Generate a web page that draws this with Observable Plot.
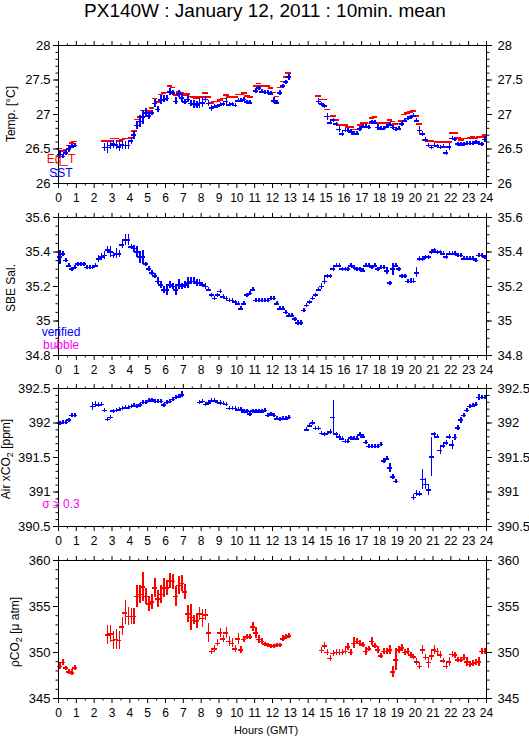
<!DOCTYPE html>
<html><head><meta charset="utf-8">
<script src="https://cdn.jsdelivr.net/npm/d3@7"></script>
<script src="https://cdn.jsdelivr.net/npm/@observablehq/plot@0.6"></script>
<style>
body{margin:0;background:#fff;}
#root{position:relative;width:529px;height:739px;overflow:hidden;font-family:"Liberation Sans",Arial,Helvetica,sans-serif;color:#000;background:#fff;}
#title{position:absolute;left:0;top:0px;width:530px;text-align:center;font-size:19px;line-height:21px;white-space:nowrap;}
#xlab{position:absolute;left:0;width:532px;top:723px;text-align:center;font-size:11px;line-height:14px;}
.panel{position:absolute;left:0;}
</style></head>
<body><div id="root"><div id="title">PX140W : January 12, 2011 : 10min. mean</div><div id="xlab">Hours (GMT)</div></div>
<script>
const _ = null;
const FONT = '"Liberation Sans", Arial, Helvetica, sans-serif';
const RED = "#ff0000", BLUE = "#0000ff", MAGENTA = "#ff00ff";

// x tick labels (hours)
const hourTicks = [0,1,2,3,4,5,6,7,8,9,10,11,12,13,14,15,16,17,18,19,20,21,22,23,24];

// ---- Panel 1: temperature, 10-min slots (0..143) ----
const eqT = [
 26.51,26.47,26.49,26.55,26.59,26.61,  _,_,_,_,_,_,
 _,_,_,26.62,26.61,26.62,  26.65,26.65,26.62,26.64,26.65,26.65,
 26.66,26.76,26.93,26.96,27.06,27.06,  27.05,27.09,27.23,27.18,27.29,27.31,
 27.32,27.41,27.39,27.28,27.33,27.31,  27.28,27.30,27.26,27.25,27.24,27.25,
 27.25,27.31,27.25,27.17,27.19,27.19,  27.21,27.23,27.28,27.25,27.25,27.25,
 27.29,27.29,27.31,27.27,27.25,_,  27.41,27.45,27.41,27.41,27.41,27.38,
 27.32,27.26,27.39,27.48,27.54,27.60,  _,_,_,_,_,_,
 _,_,_,27.27,27.22,27.22,  27.07,26.97,26.98,26.92,26.85,26.85,
 26.85,26.82,26.82,26.78,26.78,26.85,  26.88,26.88,26.87,26.95,26.96,26.88,
 26.88,26.88,26.88,26.92,26.90,26.86,  26.87,26.91,27.00,27.02,27.04,27.05,
 26.98,26.86,26.72,26.63,26.61,26.62,  26.61,26.60,26.60,26.60,26.53,26.60,
 26.73,26.73,26.66,26.63,26.65,26.65,  26.66,26.67,26.66,26.67,26.67,26.70
];
const sst = [
 26.42,26.39,26.44,26.50,26.53,26.55,  _,_,_,_,_,_,
 _,_,_,26.52,26.52,26.55,  26.57,26.56,26.53,26.56,26.55,26.55,
 26.62,26.70,26.84,26.90,26.96,27.02,  26.98,27.02,27.16,27.07,27.21,27.22,
 27.23,27.33,27.31,27.19,27.30,27.24,  27.18,27.22,27.16,27.15,27.14,27.16,
 27.17,27.22,27.16,27.09,27.11,27.12,  27.14,27.15,27.19,27.14,27.15,27.13,
 27.20,27.20,27.22,27.18,27.17,_,  27.34,27.38,27.33,27.32,27.32,27.30,
 27.20,27.17,27.31,27.41,27.47,27.54,  _,_,_,_,_,_,
 _,_,_,27.19,27.15,27.12,  26.97,26.88,26.92,26.86,26.78,26.72,
 26.77,26.77,26.75,26.72,26.72,26.79,  26.82,26.82,26.81,26.89,26.88,26.81,
 26.79,26.80,26.82,26.85,26.81,26.78,  26.79,26.86,26.91,26.94,26.96,26.98,
 26.91,26.77,26.72,26.63,26.55,26.52,  26.55,26.54,26.52,26.53,26.44,26.53,
 26.65,26.64,26.57,26.56,26.57,26.58,  26.58,26.58,26.60,26.58,26.57,26.64
];
const sstErr = [
 .06,.025,.035,.05,.025,.025,  _,_,_,_,_,_,
 _,_,_,.06,.08,.06,  .06,.07,.06,.07,.06,.05,
 .05,.06,.06,.09,.10,.07,  .05,.04,.06,.04,.06,.05,
 .04,.05,.04,.05,.05,.06,  .04,.05,.05,.06,.05,.07,
 .07,.04,.04,.04,.03,.03,  .03,.03,.04,.03,.03,.02,
 .03,.03,.03,.03,.03,_,  .03,.03,.02,.02,.02,.02,
 .04,.03,.04,.03,.03,.04,  _,_,_,_,_,_,
 _,_,_,.04,.03,.03,  .05,.02,.02,.02,.04,.04,
 .02,.02,.02,.02,.02,.03,  .02,.02,.03,.02,.02,.04,
 .02,.02,.02,.02,.02,.02,  .02,.03,.02,.02,.02,.02,
 .02,.05,.04,.03,.03,.02,  .02,.02,.02,.02,.04,.05,
 .02,.02,.02,.02,.02,.02,  .02,.02,.02,.02,.02,.04
];

// ---- Panel 2: salinity ----
const sal = [
 35.37,35.39,35.35,35.32,35.30,35.31,  35.33,35.33,35.33,35.31,35.31,35.31,
 35.32,35.36,35.37,35.38,35.41,35.40,  35.38,35.39,35.39,35.44,35.47,35.47,
 35.43,35.42,35.40,35.37,35.37,35.33,  35.30,35.28,35.26,35.23,35.21,35.18,
 35.18,35.21,35.20,35.18,35.21,35.20,  35.21,35.22,35.23,35.23,35.22,35.22,
 35.21,35.20,35.18,35.15,35.13,35.15,  35.17,35.14,35.13,35.12,35.12,35.11,
 35.10,35.07,35.10,35.15,35.16,35.18,  35.12,35.12,35.12,35.12,35.12,35.13,
 35.13,35.10,35.07,35.07,35.05,35.03,  35.03,35.01,34.99,34.99,35.06,35.09,
 35.11,35.13,35.15,35.18,35.20,35.23,  35.26,35.26,35.30,35.32,35.32,35.30,
 35.30,35.30,35.32,35.31,35.30,35.30,  35.29,35.32,35.32,35.31,35.32,35.30,
 35.31,35.31,35.29,35.22,35.30,35.32,  35.30,35.26,35.26,35.23,35.23,35.23,
 35.28,35.36,35.36,35.37,35.37,35.40,  35.41,35.40,35.40,35.39,35.37,35.39,
 35.39,35.39,35.38,35.38,35.36,35.36,  35.36,35.36,35.35,35.38,35.38,35.37
];
const salErr = [
 .04,.015,.01,.008,.008,.008,  .008,.008,.008,.008,.008,.008,
 .008,.02,.02,.025,.02,.03,  .02,.03,.02,.02,.03,.03,
 .01,.02,.03,.035,.04,.01,  .015,.015,.015,.02,.02,.02,
 .03,.02,.02,.03,.03,.02,  .02,.03,.02,.02,.02,.02,
 .015,.015,.01,.008,.008,.008,  .008,.008,.008,.008,.008,.008,
 .008,.008,.008,.008,.008,.008,  .008,.008,.008,.008,.008,.008,
 .008,.008,.008,.008,.008,.008,  .008,.008,.015,.015,.008,.008,
 .008,.008,.008,.008,.015,.02,  .008,.008,.008,.008,.008,.008,
 .008,.008,.008,.008,.008,.008,  .008,.008,.008,.008,.008,.008,
 .008,.008,.02,.008,.035,.008,  .008,.008,.008,.008,.015,.015,
 .03,.015,.015,.01,.01,.008,  .008,.008,.008,.008,.008,.008,
 .008,.008,.008,.008,.008,.008,  .008,.008,.008,.008,.01,.008
];

// ---- Panel 3: air xCO2 ----
const air = [
 391.99,392.01,392.01,392.04,392.11,392.11,  _,_,_,_,_,392.24,
 392.27,392.26,392.27,392.18,392.05,392.08,  392.17,392.18,392.19,392.21,392.22,392.22,
 392.24,392.25,392.24,392.26,392.30,392.30,  392.32,392.33,392.31,392.31,392.31,392.26,
 392.30,392.31,392.34,392.37,392.38,392.41,  _,_,_,_,_,392.30,
 392.31,392.27,392.29,392.32,392.32,392.30,  392.29,392.28,392.27,392.21,392.21,392.21,
 392.19,392.19,392.16,392.17,392.13,392.17,  392.16,392.17,392.16,392.18,392.11,392.13,
 392.11,392.06,392.05,392.06,392.06,392.08,  _,_,_,_,_,391.90,
 391.96,392.00,391.92,391.92,391.85,391.84,  391.85,391.87,392.08,391.84,391.80,391.77,
 391.73,391.73,391.78,391.77,391.77,391.83,  391.80,391.72,391.66,391.66,391.66,391.66,
 391.69,391.45,391.48,391.35,391.22,391.15,  _,_,_,_,_,390.92,
 390.98,390.97,391.18,391.11,391.03,391.51,  391.84,391.80,391.60,391.67,391.71,391.80,
 391.68,391.79,391.93,392.04,392.11,392.18,  392.24,392.25,392.27,392.37,392.37,392.37
];
const airErr = [
 .02,.02,.02,.02,.02,.02,  _,_,_,_,_,.06,
 .04,.03,.03,.03,.03,.03,  .02,.02,.02,.02,.02,.02,
 .02,.02,.02,.02,.02,.02,  .02,.02,.02,.02,.02,.02,
 .02,.02,.02,.03,.03,.04,  _,_,_,_,_,.03,
 .03,.03,.03,.03,.03,.03,  .03,.03,.03,.03,.03,.03,
 .03,.02,.02,.02,.03,.02,  .02,.02,.02,.02,.02,.02,
 .02,.02,.03,.02,.02,.02,  _,_,_,_,_,.02,
 .03,.04,.02,.02,.03,.02,  .02,.03,.24,.02,.02,.02,
 .02,.02,.02,.02,.02,.02,  .03,.02,.02,.02,.02,.02,
 .02,.03,.02,.07,.04,.02,  _,_,_,_,_,.04,
 .04,.04,.14,.08,.08,.28,  .02,.02,.05,.04,.03,.04,
 .06,.05,.04,.04,.03,.03,  .02,.02,.02,.04,.03,.03
];

// ---- Panel 4: pCO2 ----
const pco2 = [
 348.5,348.9,348.3,347.9,347.8,348.3,  _,_,_,_,_,_,
 _,_,_,_,351.9,352.0,  351.3,351.4,351.3,352.8,354.3,353.9,
 353.9,353.9,356.1,356.3,357.1,356.1,  355.3,355.5,357.0,355.8,356.3,357.0,
 357.0,357.8,357.7,356.1,357.3,357.5,  356.6,354.2,353.8,353.5,353.4,354.2,
 353.7,354.1,352.1,350.1,350.4,351.0,  352.1,351.5,352.1,351.2,351.0,350.4,
 351.5,350.25,351.4,351.7,351.7,352.8,  352.1,351.4,351.2,350.9,350.8,350.7,
 350.7,350.8,350.8,351.5,351.7,351.8,  _,_,_,_,_,_,
 _,_,_,_,350.2,350.7,  350.0,349.35,349.9,350.0,350.0,350.0,
 350.1,350.6,350.0,351.0,351.2,351.0,  350.8,350.1,350.4,351.2,350.7,350.3,
 349.6,350.1,350.1,350.25,347.9,349.2,  350.25,350.5,350.0,350.1,349.7,349.5,
 349.0,348.5,350.25,349.45,348.9,349.6,  350.25,350.1,349.7,349.1,348.5,349.0,
 349.8,349.7,349.2,349.2,349.45,349.0,  348.7,348.8,348.9,349.0,350.1,350.1
];
const pco2Err = [
 .4,.3,.2,.3,.35,.3,  _,_,_,_,_,_,
 _,_,_,_,1.0,.9,  1.0,1.1,1.0,1.0,1.3,1.0,
 .9,.9,1.2,1.0,1.6,.9,  .8,.8,1.0,.9,1.0,1.0,
 .8,.8,.8,1.1,1.0,.9,  .8,.9,1.4,.5,.8,.7,
 1.0,.6,1.0,.3,.4,.4,  .5,.4,.6,.5,.5,.4,
 .6,.4,.3,.3,.3,.5,  .6,.4,.3,.2,.2,.2,
 .2,.2,.2,.3,.3,.3,  _,_,_,_,_,_,
 _,_,_,_,.35,.4,  .3,.3,.3,.3,.3,.3,
 .3,.4,.3,.6,.3,.3,  .3,.4,.3,.4,.3,.4,
 .3,.3,.3,.5,.6,1.2,  .4,.4,.3,.3,.3,.3,
 .4,.4,.5,.3,.6,.5,  .5,.3,.4,.3,.4,.5,
 .3,.3,.3,.3,.3,.5,  .3,.3,.3,.5,.3,.3
];

// ---- helpers ----
function rows(vals, errs) {
  const out = [];
  vals.forEach((v, k) => { if (v != null) out.push({h: (k + 0.5) / 6, v, e: errs ? (errs[k] ?? 0) : 0}); });
  return out;
}
const FRAME_L = 58, FRAME_R = 486, FRAME_H = 138, MT = 12, MB = 30;
const halfTicks = hourTicks.slice(0, -1).map(d => d + 0.5);

function crosses(data, color, domain) {
  const arm = (domain[1] - domain[0]) / FRAME_H * 2; // ~2px minimum vertical arm
  return [
    Plot.ruleX(data, {x: "h", y1: d => d.v - Math.max(d.e, arm), y2: d => d.v + Math.max(d.e, arm),
      stroke: color, strokeWidth: 1.6, shapeRendering: "crispEdges"}),
    Plot.ruleY(data, {y: "v", x1: d => d.h - 0.14, x2: d => d.h + 0.14,
      stroke: color, strokeWidth: 1.6, shapeRendering: "crispEdges"})
  ];
}

function panel({top, domain, major, minorStep, marks, ylabel, ylabelX, ylabelDy = 0, legend}) {
  const minor = d3.range(Math.round((domain[1] - domain[0]) / minorStep) + 1).map(i => domain[0] + i * minorStep);
  const fmt = d => String(+d.toFixed(2));
  const empty = () => "";
  const svg = Plot.plot({
    width: 529, height: MT + FRAME_H + MB,
    marginLeft: FRAME_L, marginRight: 529 - FRAME_R, marginTop: MT, marginBottom: MB,
    style: {background: "transparent", fontFamily: FONT, overflow: "visible", color: "#000"},
    x: {domain: [0, 24], label: null},
    y: {domain, label: null},
    marks: [
      ...marks,
      Plot.frame({stroke: "#000", strokeWidth: 1}),
      Plot.axisX({anchor: "bottom", ticks: hourTicks, tickSize: 5, tickPadding: 5, tickFormat: d => String(d), fontSize: 12, label: null}),
      Plot.axisX({anchor: "bottom", ticks: halfTicks, tickSize: 2.5, tickFormat: empty, label: null}),
      Plot.axisX({anchor: "top", ticks: hourTicks, tickSize: 5, tickFormat: empty, label: null}),
      Plot.axisX({anchor: "top", ticks: halfTicks, tickSize: 2.5, tickFormat: empty, label: null}),
      Plot.axisY({anchor: "left", ticks: major, tickSize: 5, tickPadding: 3, tickFormat: fmt, fontSize: 13, label: null}),
      Plot.axisY({anchor: "left", ticks: minor, tickSize: 2.5, tickFormat: empty, label: null}),
      Plot.axisY({anchor: "right", ticks: major, tickSize: 5, tickPadding: 6, tickFormat: fmt, fontSize: 13, label: null}),
      Plot.axisY({anchor: "right", ticks: minor, tickSize: 2.5, tickFormat: empty, label: null})
    ]
  });
  const s = d3.select(svg);
  // y-axis title
  const t = s.append("text")
    .attr("transform", `translate(${ylabelX},${MT + FRAME_H / 2 + ylabelDy}) rotate(-90)`)
    .attr("text-anchor", "middle").attr("font-size", 12).attr("font-family", FONT).attr("fill", "#000");
  ylabel.forEach(([txt, sub]) => {
    if (sub) t.append("tspan").attr("dy", 3).attr("font-size", 9).text(txt);
    else t.append("tspan").attr("dy", t.selectAll("tspan").size() ? -3 : 0).text(txt);
  });
  // in-frame legend texts
  (legend || []).forEach(([txt, color, up]) => {
    s.append("text").attr("x", FRAME_L + 3).attr("y", MT + FRAME_H - up)
      .attr("font-size", 12).attr("font-family", FONT).attr("fill", color).text(txt);
  });
  const div = document.createElement("div");
  div.className = "panel";
  div.style.top = (top - MT) + "px";
  div.appendChild(svg);
  document.getElementById("root").appendChild(div);
}

// Panel 1
{
  const dom = [26, 28];
  panel({top: 45, domain: dom, major: [26, 26.5, 27, 27.5, 28], minorStep: 0.1,
    marks: [
      Plot.ruleY(rows(eqT), {y: "v", x1: d => d.h - 0.16, x2: d => d.h + 0.16, stroke: RED, strokeWidth: 1.6, shapeRendering: "crispEdges"}),
      ...crosses(rows(sst, sstErr), BLUE, dom)
    ],
    ylabel: [["Temp. [°C]"]], ylabelX: 18,
    legend: [["Eq_T", RED, 20], ["SST", BLUE, 6]]
  });
}
// Panel 2
{
  const dom = [34.8, 35.6];
  panel({top: 217, domain: dom, major: [34.8, 35, 35.2, 35.4, 35.6], minorStep: 0.05,
    marks: [...crosses(rows(sal, salErr), BLUE, dom)],
    ylabel: [["SBE Sal."]], ylabelX: 18, ylabelDy: 2,
    legend: [["verified", BLUE, 19], ["bubble", MAGENTA, 6]]
  });
}
// Panel 3
{
  const dom = [390.5, 392.5];
  panel({top: 388, domain: dom, major: [390.5, 391, 391.5, 392, 392.5], minorStep: 0.1,
    marks: [...crosses(rows(air, airErr), BLUE, dom)],
    ylabel: [["Air xCO"], ["2", true], [" [ppm]"]], ylabelX: 13, ylabelDy: 2,
    legend: [["σ ≥ 0.3", MAGENTA, 18]]
  });
}
// Panel 4
{
  const dom = [345, 360];
  panel({top: 560, domain: dom, major: [345, 350, 355, 360], minorStep: 1,
    marks: [...crosses(rows(pco2, pco2Err), RED, dom)],
    ylabel: [["ρCO"], ["2", true], [" [μ atm]"]], ylabelX: 22, ylabelDy: 3
  });
}
</script></body></html>
